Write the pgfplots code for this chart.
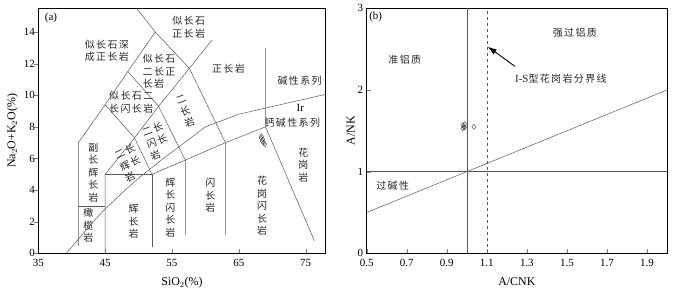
\documentclass[border=0pt]{standalone}
\usepackage{pgfplots}
\pgfplotsset{compat=1.18}
\usepackage{fontspec}
\setmainfont{Liberation Serif}
\newfontfamily\cjk[LetterSpace=14]{Noto Sans CJK SC}
\usetikzlibrary{arrows.meta}
\tikzset{
  lab/.style={font=\cjk\fontsize{10}{12.5}\selectfont, align=center, inner sep=0pt, text=black!85},
}
\begin{document}
\begin{tikzpicture}
\path[use as bounding box] (0bp,0bp) rectangle (678bp,294bp);
\pgfplotsset{
  every axis/.append style={
    scale only axis, anchor=south west,
    /pgf/number format/assume math mode=true,
    tick label style={font=\fontsize{11}{12}\selectfont},
    xticklabel style={yshift=-2.5pt},
    label style={font=\fontsize{12}{13}\selectfont},
    tick align=inside, major tick length=4pt,
    xtick pos=bottom, ytick pos=left,
    axis line style={black, line width=0.7pt},
  },
  bl/.style={black!65, line width=0.5pt, forget plot},
  pts/.style={only marks, mark=diamond, mark size=2.6pt, mark options={black!70, line width=0.45pt}},
}
% ---------------- (a) TAS ----------------
\begin{axis}[at={(38.3bp,40.7bp)}, width=287.4bp, height=245bp,
  xmin=35, xmax=78, ymin=0, ymax=15.5,
  xtick={35,45,55,65,75}, ytick={0,2,4,6,8,10,12,14},
  ytick style={xshift=-4pt},
  xlabel={SiO$_2$(\%)}, ylabel={Na$_2$O+K$_2$O(\%)},
  xlabel style={yshift=-4pt}, ylabel style={yshift=-1pt}]
\addplot[bl] coordinates {(41,0.45) (41,7) (45,9.4) (48.4,11.5) (52.5,14)};
\addplot[bl] coordinates {(49.7,15.5) (52.5,14) (57.6,11.7) (61,13.5)};
\addplot[bl] coordinates {(41,3) (45,3)};
\addplot[bl] coordinates {(45,0) (45,5) (49.4,7.3) (53,9.3) (57.6,11.7) (63,7) (63,1.15)};
\addplot[bl] coordinates {(45,5) (52,5) (52,0.4)};
\addplot[bl] coordinates {(45,9.4) (49.4,7.3) (52,5)};
\addplot[bl] coordinates {(48.4,11.5) (53,9.3) (57,5.9) (57,1.15)};
\addplot[bl] coordinates {(52,5) (57,5.9) (63,7) (69,8) (69,13)};
\addplot[bl] coordinates {(69,8) (76.3,0.8)};
\addplot[bl] coordinates {(39.2,0) (40,0.4) (43.2,2) (45,2.8) (48,4) (50,4.75) (53.7,6) (55,6.4) (60,8) (65,8.8) (77.4,10) (78,10.06)};
\addplot[pts] coordinates {(68.3,7.3) (68.5,7.1) (68.7,7.0) (68.6,7.2) (68.9,6.9) (68.4,7.4)};
\node[font=\fontsize{11}{12}\selectfont] at (axis cs:36.9,14.9) {(a)};
\node[lab] at (axis cs:45.25,12.8) {似长石深\\成正长岩};
\node[lab] at (axis cs:57.5,14.3) {似长石\\正长岩};
\node[lab, align=left, anchor=west] at (axis cs:50.6,11.5) {似长石\\二长正\\长岩};
\node[lab] at (axis cs:48.9,9.57) {似长石二\\长闪长岩};
\node[lab] at (axis cs:63.45,11.65) {正长岩};
\node[lab] at (axis cs:74.1,10.9) {碱性系列};
\node[font=\fontsize{11}{12}\selectfont] at (axis cs:74.2,9.2) {Ir};
\node[lab] at (axis cs:73,8.27) {钙碱性系列};
% rotated labels, one node per row
\node[lab, rotate=20] at (axis cs:56.36,9.74) {二};
\node[lab, rotate=20] at (axis cs:57.0,9.0) {长};
\node[lab, rotate=20] at (axis cs:57.64,8.26) {岩};
\node[lab, rotate=20] at (axis cs:52.11,7.84) {二长};
\node[lab, rotate=20] at (axis cs:52.75,7.1) {闪长};
\node[lab, rotate=20] at (axis cs:52.54,6.23) {岩};
\node[lab, rotate=25] at (axis cs:47.96,6.42) {二长};
\node[lab, rotate=25] at (axis cs:48.75,5.7) {辉长};
\node[lab, rotate=25] at (axis cs:48.72,4.82) {岩};
\node[lab] at (axis cs:43.25,5.1) {副\\长\\辉\\长\\岩};
\node[lab] at (axis cs:42.5,1.75) {橄\\榄\\岩};
\node[lab] at (axis cs:49.25,2.0) {辉\\长\\岩};
\node[lab] at (axis cs:54.75,2.9) {辉\\长\\闪\\长\\岩};
\node[lab] at (axis cs:60.75,3.65) {闪\\长\\岩};
\node[lab] at (axis cs:68.5,3.0) {花\\岗\\闪\\长\\岩};
\node[lab] at (axis cs:74.65,5.6) {花\\岗\\岩};
\end{axis}
% ---------------- (b) A/CNK - A/NK ----------------
\begin{axis}[at={(366.7bp,40.7bp)}, width=300.3bp, height=245bp,
  xmin=0.5, xmax=2.0, ymin=0, ymax=3,
  xtick={0.5,0.7,0.9,1.1,1.3,1.5,1.7,1.9}, ytick={0,1,2,3},
  xticklabel style={/pgf/number format/.cd, fixed, precision=1},
  xlabel={A/CNK}, ylabel={A/NK},
  xlabel style={yshift=-4pt}, ylabel style={yshift=-4pt}]
\addplot[bl] coordinates {(1,0) (1,3)};
\addplot[bl, dashed] coordinates {(1.1,0) (1.1,3)};
\addplot[bl] coordinates {(0.5,1) (2,1)};
\addplot[bl] coordinates {(0.5,0.5) (2,2)};
\addplot[black, line width=0.9pt, -{Latex[length=9pt,width=6pt]}, forget plot] coordinates {(1.24,2.29) (1.105,2.53)};
\addplot[pts] coordinates {(0.98,1.57) (0.985,1.55) (0.99,1.54) (0.98,1.53) (0.99,1.58) (1.035,1.55)};
\node[font=\fontsize{11}{12}\selectfont] at (axis cs:0.545,2.89) {(b)};
\node[lab] at (axis cs:0.69,2.37) {准铝质};
\node[lab] at (axis cs:1.54,2.70) {强过铝质};
\node[lab] at (axis cs:1.47,2.14) {{\rmfamily\fontsize{11}{12}\selectfont I-S}型花岗岩分界线};
\node[lab] at (axis cs:0.63,0.83) {过碱性};
\end{axis}
\end{tikzpicture}
\end{document}
